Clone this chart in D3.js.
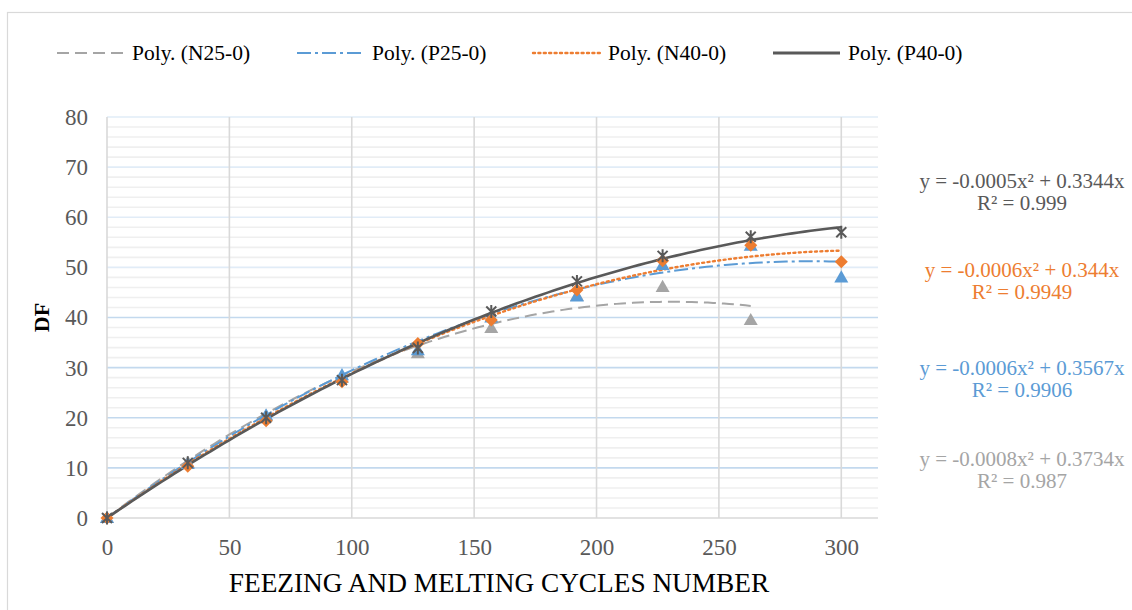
<!DOCTYPE html>
<html>
<head>
<meta charset="utf-8">
<script src="https://cdn.jsdelivr.net/npm/d3@7"></script>
<style>
  html, body { margin: 0; padding: 0; background: #fff; }
  svg text { font-family: "Liberation Serif", "Times New Roman", Tinos, "DejaVu Serif", serif; }
</style>
</head>
<body>
<svg id="chart" width="1132" height="610"></svg>
<script>
// Freeze–thaw cycles at which DF was measured
const cycles = [0, 33, 65, 96, 127, 157, 192, 227, 263, 300];

// Measured DF per mix
const dfN25 = [0, 11.0, 20.3, 28.0, 32.9, 37.9, 44.3, 46.1, 39.5];
const dfP25 = [0, 10.8, 20.5, 28.5, 33.5, 40.0, 44.2, 50.5, 54.3, 48.0];
const dfN40 = [0, 10.3, 19.4, 27.2, 34.8, 39.5, 45.5, 51.3, 54.4, 51.1];
const dfP40 = [0, 11.0, 20.0, 27.5, 33.9, 41.2, 47.2, 52.3, 56.1, 57.0];

// Second-order trendlines through the origin: y = a·x² + b·x
const seriesNames = ["N25-0", "P25-0", "N40-0", "P40-0"];
const trendA = [-0.000808, -0.000621, -0.000554, -0.00047];
const trendB = [0.3734, 0.3567, 0.344, 0.3344];
const trendR2 = [0.987, 0.9906, 0.9949, 0.999];

// Axis ticks
const xTicks = [0, 50, 100, 150, 200, 250, 300];
const yTicks = [0, 10, 20, 30, 40, 50, 60, 70, 80];

const FONT = "'Liberation Serif', 'Times New Roman', Tinos, 'DejaVu Serif', serif";
const svg = d3.select("#chart");
const colors = ["#A5A5A5", "#5B9BD5", "#ED7D31", "#595959"];
const dashes = ["12,6", "14,4,3,4", "2,3.4", null];
const widths = [2, 2, 2.4, 2.6];
const values = [dfN25, dfP25, dfN40, dfP40];

// Chart frame
svg.append("rect")
  .attr("x", 7.5).attr("y", 12.5)
  .attr("width", 1140).attr("height", 620)
  .attr("fill", "none").attr("stroke", "#D9D9D9").attr("stroke-width", 1.2);

const x = d3.scaleLinear().domain([0, 315]).range([107, 878]);
const y = d3.scaleLinear().domain([0, 80]).range([518, 117]);

// Minor horizontal gridlines every 2 units
const g = svg.append("g");
g.selectAll(".minor").data(d3.range(0, 81, 2).filter(v => v % 10 !== 0))
  .join("line")
  .attr("x1", x(0)).attr("x2", x(315))
  .attr("y1", d => y(d)).attr("y2", d => y(d))
  .attr("stroke", "#EFEFEF").attr("stroke-width", 1.6);

// Major horizontal gridlines
g.selectAll(".major").data(yTicks.filter(v => v > 0))
  .join("line")
  .attr("x1", x(0)).attr("x2", x(315))
  .attr("y1", d => y(d)).attr("y2", d => y(d))
  .attr("stroke", d => d <= 40 ? "#C3D9EE" : "#E1ECF7").attr("stroke-width", 1.6);

// Vertical gridlines
g.selectAll(".vgrid").data(xTicks)
  .join("line")
  .attr("x1", d => x(d)).attr("x2", d => x(d))
  .attr("y1", y(80)).attr("y2", y(0))
  .attr("stroke", "#D9D9D9").attr("stroke-width", 1.6);

// Horizontal axis line
g.append("line")
  .attr("x1", x(0)).attr("x2", x(315))
  .attr("y1", y(0)).attr("y2", y(0))
  .attr("stroke", "#D9D9D9").attr("stroke-width", 1.6);

// Axes (labels only)
const xAxis = svg.append("g").attr("transform", `translate(0,${y(0)})`)
  .call(d3.axisBottom(x).tickValues(xTicks).tickSize(0).tickPadding(17));
const yAxis = svg.append("g").attr("transform", `translate(${x(0)},0)`)
  .call(d3.axisLeft(y).tickValues(yTicks).tickSize(0).tickPadding(19));
[xAxis, yAxis].forEach(a => {
  a.attr("font-family", FONT).attr("font-size", 23);
  a.select(".domain").remove();
  a.selectAll("text").attr("fill", "#595959");
});
xAxis.selectAll("text").attr("dy", "0.85em");

// Axis titles
svg.append("text")
  .attr("x", 499).attr("y", 592)
  .attr("text-anchor", "middle")
  .attr("font-size", 27.3).attr("fill", "#000")
  .text("FEEZING AND MELTING CYCLES NUMBER");
svg.append("text")
  .attr("transform", `translate(49,${(y(0) + y(80)) / 2}) rotate(-90)`)
  .attr("text-anchor", "middle")
  .attr("font-size", 22).attr("font-weight", "bold").attr("fill", "#000")
  .text("DF");

// Trendlines
const lineGen = d3.line().x(d => x(d[0])).y(d => y(d[1]));
seriesNames.forEach((name, i) => {
  const xMax = cycles[values[i].length - 1];
  const pts = d3.range(0, xMax + 0.001, xMax / 120)
    .map(t => [t, trendA[i] * t * t + trendB[i] * t]);
  svg.append("path")
    .attr("d", lineGen(pts))
    .attr("fill", "none")
    .attr("stroke", colors[i])
    .attr("stroke-width", widths[i])
    .attr("stroke-dasharray", dashes[i])
    .attr("stroke-linecap", i === 2 ? "round" : "butt");
});

// Data markers
const tri = d3.symbol().type(d3.symbolTriangle).size(85);
const diamondPath = "M0,-6.5L6.5,0L0,6.5L-6.5,0Z";
values.forEach((vals, i) => {
  const grp = svg.append("g");
  vals.forEach((v, j) => {
    const px = x(cycles[j]), py = y(v);
    if (i < 2) {
      grp.append("path").attr("d", tri())
        .attr("transform", `translate(${px},${py + 1})`)
        .attr("fill", colors[i]);
    } else if (i === 2) {
      grp.append("path").attr("d", diamondPath)
        .attr("transform", `translate(${px},${py})`)
        .attr("fill", colors[i]);
    } else {
      grp.append("path")
        .attr("d", "M-5,-5L5,5M-5,5L5,-5M0,-6.5L0,6.5")
        .attr("transform", `translate(${px},${py})`)
        .attr("stroke", colors[i]).attr("stroke-width", 2).attr("fill", "none");
    }
  });
});

// Legend
const legendX = [57, 297, 533, 773];
seriesNames.forEach((name, i) => {
  const lx = legendX[i];
  svg.append("line")
    .attr("x1", lx).attr("x2", lx + 67)
    .attr("y1", 53).attr("y2", 53)
    .attr("stroke", colors[i])
    .attr("stroke-width", i === 3 ? 3 : widths[i])
    .attr("stroke-dasharray", dashes[i])
    .attr("stroke-linecap", i === 2 ? "round" : "butt");
  svg.append("text")
    .attr("x", lx + 75).attr("y", 60)
    .attr("font-size", 21.5).attr("fill", "#000")
    .text(`Poly. (${name})`);
});

// Trendline equations
const fmt = v => String(+v.toFixed(4));
const eqY = [466, 375, 277, 188];
seriesNames.forEach((name, i) => {
  const a = trendA[i], b = trendB[i];
  svg.append("text")
    .attr("x", 1022).attr("y", eqY[i])
    .attr("text-anchor", "middle")
    .attr("font-size", 21).attr("fill", colors[i])
    .text(`y = ${fmt(a)}x² + ${fmt(b)}x`);
  svg.append("text")
    .attr("x", 1022).attr("y", eqY[i] + 22)
    .attr("text-anchor", "middle")
    .attr("font-size", 21).attr("fill", colors[i])
    .text(`R² = ${trendR2[i]}`);
});
</script>
</body>
</html>
